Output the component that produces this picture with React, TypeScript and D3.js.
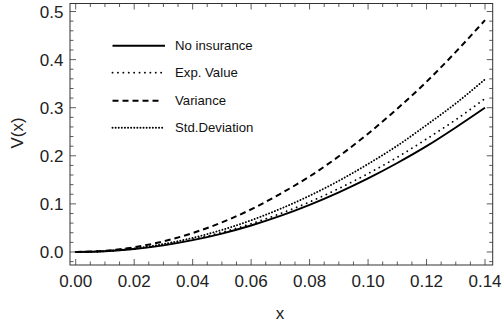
import React from "react";
import * as d3 from "d3";

const xs = [0, 0.01, 0.02, 0.03, 0.04, 0.05, 0.06, 0.07, 0.08, 0.09, 0.1, 0.11, 0.12, 0.13, 0.14];
const noInsurance = [0, 0.0015, 0.0061, 0.0138, 0.0245, 0.0383, 0.0551, 0.075, 0.098, 0.124, 0.153, 0.185, 0.22, 0.259, 0.3];
const expValue = [0, 0.0016, 0.0065, 0.0147, 0.0261, 0.0408, 0.0587, 0.0799, 0.104, 0.132, 0.163, 0.197, 0.235, 0.275, 0.319];
const variance = [0, 0.0025, 0.0098, 0.0221, 0.0394, 0.0615, 0.0886, 0.121, 0.157, 0.199, 0.246, 0.298, 0.354, 0.416, 0.482];
const stdDeviation = [0, 0.0018, 0.0073, 0.0165, 0.0293, 0.0458, 0.0659, 0.0897, 0.117, 0.148, 0.183, 0.221, 0.264, 0.309, 0.359];
const seriesNames = ["No insurance", "Exp. Value", "Variance", "Std.Deviation"];
const xTicks = [0, 0.02, 0.04, 0.06, 0.08, 0.1, 0.12, 0.14];
const yTicks = [0, 0.1, 0.2, 0.3, 0.4, 0.5];

const W = 502, H = 327;
const L = 70, R = 492.7, T = 3.5, B = 265;

export default function App() {
  const x = d3.scaleLinear().domain([-0.00195, 0.14263]).range([L, R]);
  const y = d3.scaleLinear().domain([-0.0271, 0.5167]).range([B, T]);
  const styles = [
    { dash: "none", w: 1.9, cap: "butt" },
    { dash: "0.1 5.3", w: 1.8, cap: "round" },
    { dash: "6 4", w: 2, cap: "butt" },
    { dash: "0.1 3", w: 1.9, cap: "round" },
  ];
  const data = [noInsurance, expValue, variance, stdDeviation];
  const line = d3
    .line<number>()
    .x((_, i) => x(xs[i]))
    .y((d) => y(d))
    .curve(d3.curveMonotoneX);

  const xMinor = d3.range(0, 0.1426, 0.005);
  const yMinor = d3.range(-0.02, 0.517, 0.02);
  const font = "'Liberation Sans', Arial, sans-serif";
  const legY = [45.7, 72.7, 100.7, 127.7];

  return (
    <svg width={W} height={H} style={{ position: "absolute", left: 0, top: 0 }}>
      <rect x={0} y={0} width={W} height={H} fill="white" />
      <defs>
        <clipPath id="clip">
          <rect x={L} y={T} width={R - L} height={B - T} />
        </clipPath>
      </defs>
      <g clipPath="url(#clip)">
        {data.map((d, i) => (
          <path
            key={i}
            d={line(d) || ""}
            fill="none"
            stroke="black"
            strokeWidth={styles[i].w}
            strokeDasharray={styles[i].dash}
            strokeLinecap={styles[i].cap as any}
          />
        ))}
      </g>
      {/* frame */}
      <rect x={L} y={T} width={R - L} height={B - T} fill="none" stroke="#333" strokeWidth={1} />
      {/* x ticks */}
      {xMinor.map((v, i) => {
        const major = Math.abs(v / 0.02 - Math.round(v / 0.02)) < 1e-6;
        const len = major ? 6 : 3.5;
        return (
          <g key={"xt" + i} stroke="#333" strokeWidth={0.8}>
            <line x1={x(v)} x2={x(v)} y1={B} y2={B - len} />
            <line x1={x(v)} x2={x(v)} y1={T} y2={T + len} />
          </g>
        );
      })}
      {yMinor.map((v, i) => {
        const major = Math.abs(v / 0.1 - Math.round(v / 0.1)) < 1e-6;
        const len = major ? 6 : 3.5;
        return (
          <g key={"yt" + i} stroke="#333" strokeWidth={0.8}>
            <line x1={L} x2={L + len} y1={y(v)} y2={y(v)} />
            <line x1={R} x2={R - len} y1={y(v)} y2={y(v)} />
          </g>
        );
      })}
      {xTicks.map((v) => (
        <text key={"xl" + v} x={x(v)} y={286.8} textAnchor="middle" fontFamily={font} fontSize={17} fill="#222">
          {v.toFixed(2)}
        </text>
      ))}
      {yTicks.map((v) => (
        <text key={"yl" + v} x={63.5} y={y(v) + 6} textAnchor="end" fontFamily={font} fontSize={17} fill="#222">
          {v.toFixed(1)}
        </text>
      ))}
      <text x={280} y={319} textAnchor="middle" fontFamily={font} fontSize={17} fill="#222">x</text>
      <text
        transform={`translate(23,133) rotate(-90)`}
        textAnchor="middle"
        fontFamily={font}
        fontSize={17}
        fill="#222"
      >
        V(x)
      </text>
      {/* legend */}
      {seriesNames.map((n, i) => (
        <g key={"lg" + i}>
          <line
            x1={112.5}
            x2={i === 2 ? 162 : 165}
            y1={legY[i]}
            y2={legY[i]}
            stroke="black"
            strokeWidth={styles[i].w}
            strokeDasharray={styles[i].dash}
            strokeLinecap={styles[i].cap as any}
          />
          <text x={175} y={legY[i] + 4.7} fontFamily={font} fontSize={13.2} fill="#111">
            {n}
          </text>
        </g>
      ))}
    </svg>
  );
}
